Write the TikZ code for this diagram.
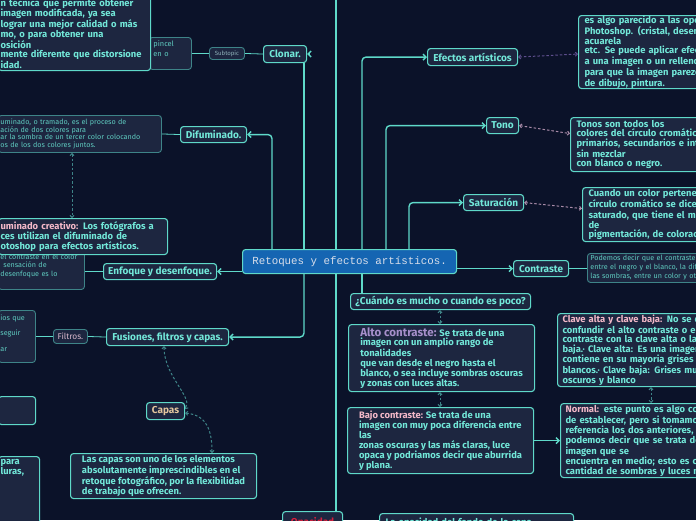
\documentclass[tikz,border=0pt]{standalone}
\usepackage{fontspec}
\setmainfont{Fira Sans}
\setmonofont{Liberation Mono}
\usetikzlibrary{arrows.meta}
\pgfdeclarelayer{back}
\pgfsetlayers{back,main}
\definecolor{bgc}{HTML}{0B1229}
\definecolor{boxf}{HTML}{1D2640}
\definecolor{tealB}{HTML}{5FD9C9}
\definecolor{tealD}{HTML}{3E8488}
\definecolor{cyanT}{HTML}{72E8D9}
\definecolor{cyanD}{HTML}{5FCBC0}
\definecolor{pinkT}{HTML}{F4B9C9}
\definecolor{lavT}{HTML}{A78FCB}
\definecolor{tanT}{HTML}{E5C79E}
\definecolor{redT}{HTML}{D91F3D}
\definecolor{filT}{HTML}{D7B7CB}
\definecolor{cblue}{HTML}{1565B2}
\definecolor{ctext}{HTML}{D8DEEA}
\definecolor{purpD}{HTML}{5E4F8E}
\definecolor{pinkD}{HTML}{A98BA8}
\definecolor{greyT}{HTML}{92B4BC}
\begin{document}
\begin{tikzpicture}[x=1pt,y=-1pt,
  box/.style={draw=tealB, fill=boxf, rounded corners=3pt, line width=1.1pt, anchor=north west,
    inner ysep=0pt, inner xsep=4pt, align=left, text=cyanT},
  tpc/.style={box, font=\fontsize{10}{11}\selectfont\bfseries, align=center, inner sep=0pt},
  desc/.style={box, font=\fontsize{9.4}{9.6}\selectfont\bfseries},
  thin/.style={box, draw=tealD, line width=0.9pt, text=cyanD, font=\fontsize{7.2}{7.6}\selectfont},
  conn/.style={draw=tealB, line width=1.4pt, rounded corners=4pt, -{Straight Barb[length=3pt,width=6pt]}},
  plain/.style={draw=tealB, line width=0.8pt},
  dconn/.style={draw=tealD, line width=1pt, dash pattern=on 2.5pt off 2pt,
    {Straight Barb[length=2pt,width=4pt]}-{Straight Barb[length=2pt,width=4pt]}}]
\useasboundingbox (0,0) rectangle (696,520);
\begin{pgfonlayer}{back}
\fill[bgc] (0,0) rectangle (696,520);
\end{pgfonlayer}
\clip (0,0) rectangle (696,520);

% ---------- left side ----------
\node[thin, font=\fontsize{7.4}{10}\selectfont, text width=34pt, minimum height=32pt, text depth=20.5pt] (pincel) at (149,37) {pincel\\en o};
\node[desc, text width=148pt, inner xsep=2pt, minimum height=74pt] (clonbig) at (-2,-4)
 {n técnica que permite obtener\\imagen modificada, ya sea\\lograr una mejor calidad o más\\mo, o para obtener una\\osición\\mente diferente que distorsione\\idad.};
\node[tpc, draw=tealD, text=greyT, font=\fontsize{6}{7}\selectfont, line width=0.9pt, minimum width=35pt, minimum height=12pt] (subtopic) at (209,47) {Subtopic};
\node[tpc, minimum width=43pt, minimum height=17pt] (clonar) at (263,45) {Clonar.};

\node[thin, text width=159pt, inner xsep=2pt, minimum height=37pt] (difdesc) at (-2,115)
 {uminado, o tramado, es el proceso de\\ación de dos colores para\\ar la sombra de un tercer color colocando\\os de los dos colores juntos.};
\node[tpc, minimum width=66pt, minimum height=16pt] (difum) at (180,126) {Difuminado.};

\node[thin, font=\fontsize{7.2}{8.5}\selectfont, text width=82pt, inner xsep=2pt, minimum height=47pt] (enfdesc) at (-2,242)
 {\mbox{el contraste en el color}\\\hspace*{3pt}sensación de\\desenfoque es lo};
\node[desc, text width=165pt, inner xsep=2pt, minimum height=36pt] (creat) at (-2,218)
 {{\color{pinkT}uminado creativo:} Los fotógrafos a\\ces utilizan el difuminado de\\otoshop para efectos artísticos.};
\node[tpc, minimum width=113pt, minimum height=16pt] (enfoque) at (103,263) {Enfoque y desenfoque.};

\node[thin, font=\fontsize{7.2}{15.5}\selectfont, text width=33pt, inner xsep=2pt, minimum height=52pt, text depth=38pt] (fildesc) at (-2,310) {ios que\\seguir\\ar};
\node[tpc, draw=tealD, text=filT, font=\fontsize{8.4}{9}\selectfont, line width=0.9pt, minimum width=34pt, minimum height=14pt] (filtros) at (53,329) {Filtros.};
\node[tpc, minimum width=122pt, minimum height=17pt] (fusiones) at (106,328) {Fusiones, filtros y capas.};

\node[box, minimum width=37pt, minimum height=28pt] (lbox1) at (-2,396) {};
\node[desc, text width=37pt, inner xsep=2pt, inner ysep=3pt, text depth=60pt] (lbox2) at (-2,456) {para\\luras,};

\node[tpc, text=tanT, minimum width=38pt, minimum height=17pt] (capas) at (146,402) {Capas};
\node[desc, minimum width=186pt, minimum height=45pt] (capdesc) at (70,453)
 {Las capas son uno de los elementos\\absolutamente imprescindibles en el\\retoque fotográfico, por la flexibilidad\\de trabajo que ofrecen.};

\node[tpc, text=redT, minimum width=60pt, inner ysep=6pt, text depth=20pt] (opac) at (282,511) {Opacidad};
\node[desc, text width=182pt, inner xsep=6pt, inner ysep=4.5pt, text depth=20pt] (botbox) at (379,513) {La opacidad del fondo de la capa};

% ---------- centre ----------
\node[draw=tealB, fill=cblue, rounded corners=3pt, line width=1.1pt, anchor=north west,
  minimum width=214pt, minimum height=24pt, inner sep=0pt, text=ctext,
  font=\ttfamily\fontsize{10.8}{12}\selectfont] (central) at (242,249) {Retoques y efectos artísticos.};

% ---------- right side ----------
\node[tpc, minimum width=90pt, minimum height=17pt] (efectos) at (427,48) {Efectos artísticos};
\node[desc, text width=240pt, inner xsep=6pt, minimum height=73pt] (efdesc) at (578,15)
 {es algo parecido a las opciones de\\Photoshop. (cristal, desenfoque,\\acuarela\\etc. Se puede aplicar efectos\\a una imagen o un relleno de color\\para que la imagen parezca\\de dibujo, pintura.};
\node[tpc, minimum width=32pt, minimum height=16pt] (tono) at (486,117) {Tono};
\node[desc, text width=240pt, inner xsep=6pt, minimum height=54pt] (tonodesc) at (570,117)
 {Tonos son todos los\\colores del círculo cromático,\\primarios, secundarios e intermedios\\sin mezclar\\con blanco o negro.};
\node[tpc, minimum width=60pt, minimum height=16pt] (satur) at (463,194) {Saturación};
\node[desc, text width=240pt, inner xsep=6pt, minimum height=54pt] (saturdesc) at (582,187)
 {Cuando un color pertenece al\\círculo cromático se dice que es\\saturado, que tiene el máximo\\de\\pigmentación, de coloración.};
\node[tpc, minimum width=55pt, minimum height=16pt] (contraste) at (513,260) {Contraste};
\node[thin, font=\fontsize{7.2}{9}\selectfont, text width=240pt, inner xsep=3pt, minimum height=29pt] (contdesc) at (587,253)
 {Podemos decir que el contraste es la diferencia\\entre el negro y el blanco, la diferencia entre luces y\\las sombras, entre un color y otro.};
\node[tpc, minimum width=180pt, minimum height=16pt] (cuando) at (350,293) {¿Cuándo es mucho o cuando es poco?};
\node[desc, minimum width=186pt, minimum height=67pt] (alto) at (348,324)
 {{\color{lavT}\fontsize{11.5}{10}\selectfont Alto contraste:} Se trata de una\\imagen con un amplio rango de\\tonalidades\\que van desde el negro hasta el\\blanco, o sea incluye sombras oscuras\\y zonas con luces altas.};
\node[desc, minimum width=186pt, minimum height=66pt] (bajo) at (347,407)
 {{\color{pinkT}Bajo contraste:} Se trata de una\\imagen con muy poca diferencia entre\\las\\zonas oscuras y las más claras, luce\\opaca y podriamos decir que aburrida\\y plana.};
\node[desc, text width=240pt, inner xsep=5pt, minimum height=73pt] (clave) at (557,313)
 {{\color{pinkT}Clave alta y clave baja:} No se debe\\confundir el alto contraste o el bajo\\contraste con la clave alta o la clave\\baja.· Clave alta: Es una imagen que\\contiene en su mayoria grises y\\blancos.· Clave baja: Grises muy\\oscuros y blanco};
\node[desc, text width=240pt, inner xsep=5pt, minimum height=74pt] (normal) at (560,403)
 {{\color{pinkT}Normal:} este punto es algo complicado\\de establecer, pero si tomamos como\\referencia los dos anteriores,\\podemos decir que se trata de una\\imagen que se\\encuentra en medio; esto es con\\cantidad de sombras y luces media.};

% ---------- connectors ----------
\coordinate (u272) at ([xshift=30pt]central.north west);
\coordinate (u304) at ([xshift=62pt]central.north west);
\coordinate (u336) at ([xshift=94pt]central.north west);
\coordinate (u362) at ([xshift=120pt]central.north west);
\coordinate (u386) at ([xshift=144pt]central.north west);
\coordinate (u409) at ([xshift=167pt]central.north west);
\coordinate (d304) at ([xshift=62pt]central.south west);
\coordinate (d336) at ([xshift=94pt]central.south west);
\coordinate (d362) at ([xshift=120pt]central.south west);
\coordinate (topend) at (336,0);
\coordinate (x72) at (72,0);
\coordinate (x164) at (164,0);
\coordinate (x212) at (212,0);
\coordinate (x440) at (440,0);
\coordinate (x651) at (651,0);
\begin{pgfonlayer}{back}
\draw[conn] (u272) |- (difum.east);
\draw[conn,-] (u304) -- (u304 |- clonar.south);
\draw[conn,-] (u336) -- (topend);
\draw[conn] (u362) |- (efectos.west);
\draw[conn] (u386) |- (tono.west);
\draw[conn] (u409) |- (satur.west);
\draw[conn] (contraste.west -| central.east) -- (contraste.west);
\draw[conn] (enfoque.east -| central.west) -- (enfoque.east);
\draw[conn] (d304) |- (fusiones.east);
\draw[conn,-] (d336) -- (d336 |- opac.north);
\draw[conn,-] (d362) -- (d362 |- cuando.north);
\draw[conn] (bajo.east) -- (normal.west);

\draw[plain] (pincel.east) -- (subtopic.west);
\draw[plain] (subtopic.east) -- (clonar.west);
\draw[plain] (difdesc.east) -- (difum.west);
\draw[plain] (enfoque.west -| enfdesc.east) -- (enfoque.west);
\draw[plain] (fildesc.east) -- (filtros.west);
\draw[plain] (filtros.east) -- (fusiones.west);
\draw[plain] (contraste.east) -- (contraste.east -| contdesc.west);

\draw[dconn] (x72 |- difdesc.south) -- (x72 |- creat.north);
\draw[dconn] (x164 |- fusiones.south) .. controls +(0,30) and +(8,-12) .. ([yshift=2pt]capas.east);
\draw[dconn] ([yshift=-2pt]capas.east) .. controls +(22,2) and +(0,-22) .. (x212 |- capdesc.north);
\draw[dconn, draw=purpD] (efectos.east) -- ([yshift=-2pt]efdesc.west);
\draw[dconn, draw=pinkD] (tono.east) -- ([yshift=11pt]tonodesc.west);
\draw[dconn, draw=pinkD] (satur.east) -- ([yshift=6pt]saturdesc.west);
\draw[dconn] (x440 |- cuando.south) -- (x440 |- alto.north);
\draw[dconn] (x440 |- alto.south) -- (x440 |- bajo.north);
\draw[dconn] (x651 |- clave.south) -- (x651 |- normal.north);
\end{pgfonlayer}
\draw[conn] ([xshift=3pt]clonar.east) -- (clonar.east);
\end{tikzpicture}
\end{document}
